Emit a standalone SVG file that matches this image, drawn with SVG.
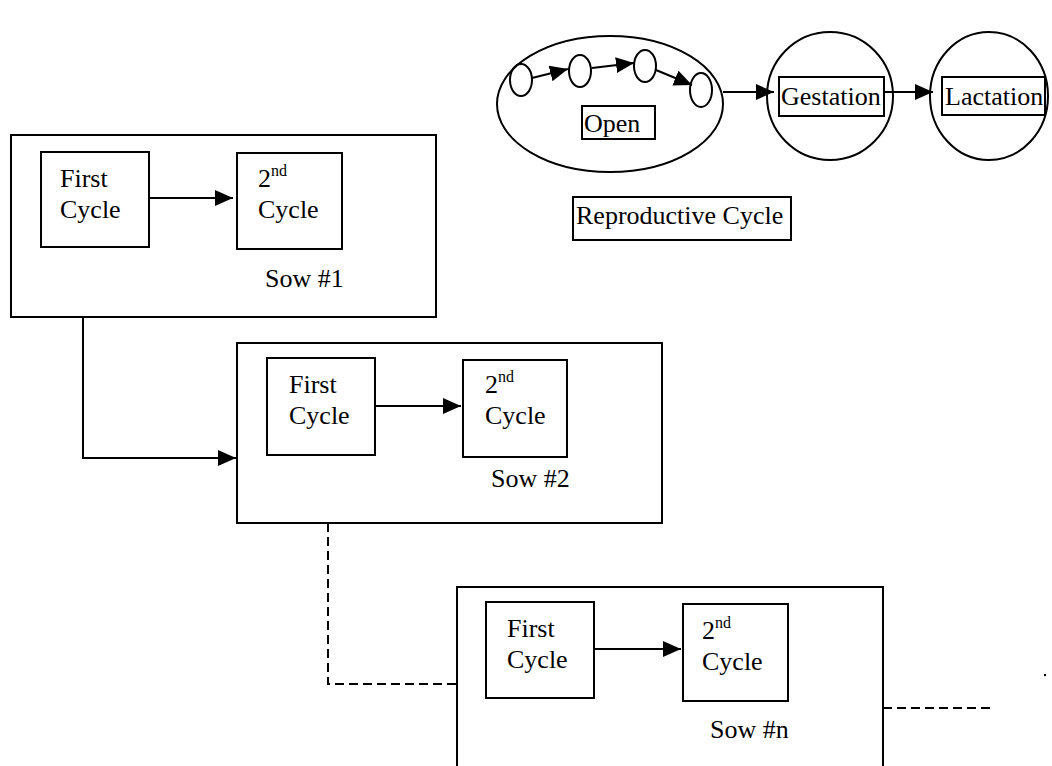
<svg xmlns="http://www.w3.org/2000/svg" width="1052" height="766" viewBox="0 0 1052 766">
<style>
  .b{fill:none;stroke:#000;stroke-width:2}
  .t{font-family:"Liberation Serif","Times New Roman",serif;font-size:26px;fill:#000}
  .sup{font-size:16px}
  .c{fill:none;stroke:#000;stroke-width:2}
  .d{fill:none;stroke:#000;stroke-width:2;stroke-dasharray:9 5}
</style>
<defs>
  <marker id="ah" markerUnits="userSpaceOnUse" markerWidth="20" markerHeight="18" refX="18" refY="8" orient="auto">
    <path d="M0,0 L18,8 L0,16 Z" fill="#000"/>
  </marker>
</defs>
<rect width="1052" height="766" fill="#fff"/>

<g id="reproductive-cycle">
  <g id="open">
    <ellipse class="b" cx="610" cy="104" rx="113" ry="68"/>
    <ellipse class="b" cx="521" cy="80" rx="11" ry="16"/>
    <ellipse class="b" cx="580" cy="71" rx="11" ry="16"/>
    <ellipse class="b" cx="645" cy="66" rx="11" ry="16"/>
    <ellipse class="b" cx="701" cy="90" rx="11" ry="17"/>
    <rect class="b" x="582" y="106" width="73" height="33"/>
    <text class="t" x="584" y="132">Open</text>
  </g>
  <g id="gestation">
    <ellipse class="b" cx="830" cy="96" rx="63" ry="64"/>
    <rect class="b" x="779" y="77" width="105" height="39"/>
    <text class="t" x="781" y="105">Gestation</text>
  </g>
  <g id="lactation">
    <ellipse class="b" cx="989" cy="96" rx="59" ry="64"/>
    <rect class="b" x="942" y="77" width="103" height="38"/>
    <text class="t" x="945" y="105">Lactation</text>
  </g>
  <g id="reproductive-label">
    <rect class="b" x="573" y="197" width="218" height="43"/>
    <text class="t" x="576" y="224">Reproductive Cycle</text>
  </g>
</g>

<g id="sow1">
  <rect class="b" x="11" y="135" width="425" height="182"/>
  <rect class="b" x="41" y="152" width="108" height="95"/>
  <text class="t" x="60" y="187">First</text>
  <text class="t" x="60" y="218">Cycle</text>
  <rect class="b" x="237" y="153" width="105" height="96"/>
  <text class="t" x="258" y="187">2<tspan class="sup" dy="-11">nd</tspan></text>
  <text class="t" x="258" y="218">Cycle</text>
  <text class="t" x="265" y="287">Sow #1</text>
</g>

<g id="sow2">
  <rect class="b" x="237" y="343" width="425" height="180"/>
  <rect class="b" x="267" y="358" width="108" height="97"/>
  <text class="t" x="289" y="393">First</text>
  <text class="t" x="289" y="424">Cycle</text>
  <rect class="b" x="463" y="360" width="104" height="97"/>
  <text class="t" x="485" y="393">2<tspan class="sup" dy="-11">nd</tspan></text>
  <text class="t" x="485" y="424">Cycle</text>
  <text class="t" x="491" y="487">Sow #2</text>
</g>

<g id="sown">
  <rect class="b" x="457" y="587" width="426" height="200"/>
  <rect class="b" x="486" y="602" width="108" height="96"/>
  <text class="t" x="507" y="637">First</text>
  <text class="t" x="507" y="668">Cycle</text>
  <rect class="b" x="683" y="604" width="105" height="97"/>
  <text class="t" x="702" y="639">2<tspan class="sup" dy="-11">nd</tspan></text>
  <text class="t" x="702" y="670">Cycle</text>
  <text class="t" x="710" y="738">Sow #n</text>
</g>

<g id="connectors">
  <line class="c" x1="532" y1="78" x2="568" y2="69" marker-end="url(#ah)"/>
  <line class="c" x1="592" y1="68" x2="634" y2="63" marker-end="url(#ah)"/>
  <line class="c" x1="656" y1="70" x2="692" y2="85" marker-end="url(#ah)"/>
  <line class="c" x1="723" y1="92" x2="774" y2="92" marker-end="url(#ah)"/>
  <line class="c" x1="884" y1="92" x2="933" y2="92" marker-end="url(#ah)"/>
  <line class="c" x1="150" y1="198" x2="233" y2="198" marker-end="url(#ah)"/>
  <line class="c" x1="376" y1="406" x2="461" y2="406" marker-end="url(#ah)"/>
  <line class="c" x1="595" y1="649" x2="681" y2="649" marker-end="url(#ah)"/>
  <path class="c" d="M83,317 V458 H236" marker-end="url(#ah)"/>
  <path class="d" d="M328,523 V684 H457"/>
  <line class="d" x1="883" y1="708" x2="995" y2="708"/>
</g>
<circle cx="1045" cy="675" r="1.2" fill="#000"/>
</svg>
